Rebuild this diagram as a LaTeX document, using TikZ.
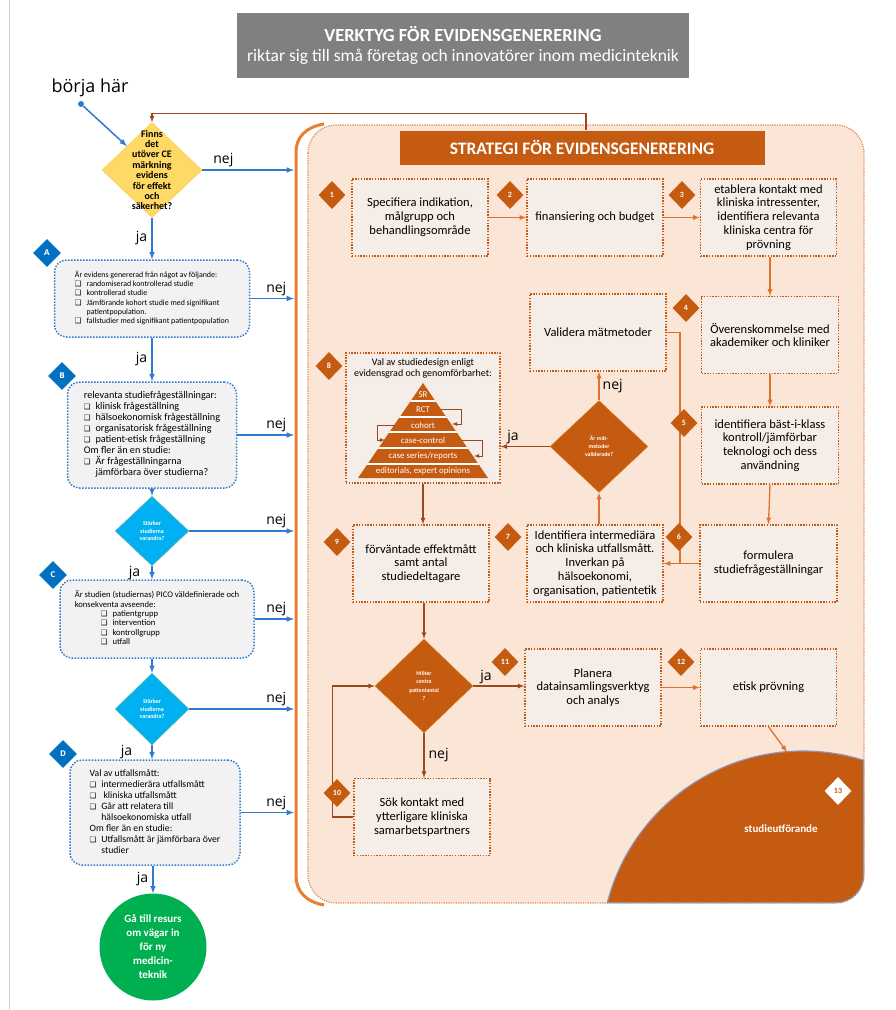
\documentclass[tikz,border=0pt]{standalone}
\usepackage{fontspec}
\setmainfont{Carlito}
\newfontfamily\segoe{Open Sans}
\newfontfamily\symfont{DejaVu Sans}
\usetikzlibrary{shapes.geometric}
\usetikzlibrary{positioning}
\usetikzlibrary{arrows}
\usetikzlibrary{calc}

\definecolor{evbrown}{HTML}{C55A11}
\definecolor{evdark}{HTML}{9A4A1C}
\definecolor{evpeach}{HTML}{FBE5D6}
\definecolor{evcream}{HTML}{F5EDE7}
\definecolor{evorange}{HTML}{ED7D31}
\definecolor{evdot}{HTML}{E38A4A}
\definecolor{evline}{HTML}{DD7330}
\definecolor{evblue}{HTML}{2E7BCF}
\definecolor{evnavy}{HTML}{0070C0}
\definecolor{evcyan}{HTML}{00B0F0}
\definecolor{evgrey}{HTML}{F2F2F2}
\definecolor{evyellow}{HTML}{FFD966}
\definecolor{evgreen}{HTML}{00B050}
\definecolor{evhead}{HTML}{808080}
\definecolor{evslate}{HTML}{8C96B4}

\newcommand{\cb}{{\symfont\fontsize{7.5}{7.5}\selectfont ❑}}
\newcommand{\fs}[2]{\fontsize{#1}{#2}\selectfont}

\begin{document}
\begin{tikzpicture}[x=1pt,y=-1pt,
    sbox/.style={draw=evbrown,fill=evcream,line width=1.4pt,dash pattern=on 1.4pt off 1.4pt,
      minimum width=136pt,minimum height=77pt,align=center,font=\fs{12.5}{13.8},inner sep=2pt},
    numd/.style={diamond,fill=evbrown,text=white,font=\bfseries\fs{8}{8},
      minimum width=27pt,minimum height=28pt,inner sep=0pt},
    lbox/.style={draw=evblue,fill=evgrey,line width=1.5pt,dash pattern=on 1.5pt off 1.5pt,
      rounded corners=12pt,inner sep=3pt},
    letd/.style={diamond,fill=evnavy,text=white,font=\segoe\bfseries\fs{8}{8},
      minimum width=28pt,minimum height=28pt,inner sep=0pt},
    wtxt/.style={text=white,font=\bfseries\fs{6}{7.5},align=center,inner sep=0pt},
    barr/.style={draw=evblue,line width=1.5pt,-latex},
    oarr/.style={draw=evline,line width=1.3pt,-latex},
    dline/.style={draw=evdark,line width=1.2pt},
    lbl/.style={font=\segoe\fs{14}{14},inner sep=1pt}]

\useasboundingbox (0,0) rectangle (896,1010);
\fill[white] (0,0) rectangle (896,1010);
\draw[gray!35,line width=0.8pt] (9.5,0) -- (9.5,1010);

% header
\node[fill=evhead,minimum width=452pt,minimum height=65pt,text=white,align=center,font=\fs{17.5}{19}] (hdr) at (463,45.5)
  {{\bfseries\fs{18.5}{19}VERKTYG FÖR EVIDENSGENERERING}\\[1pt]riktar sig till små företag och innovatörer inom medicinteknik};

% start
\node[font=\segoe\fs{18}{18}] (here) at (90,88) {börja här};
\node[circle,fill=evblue,inner sep=0pt,minimum size=6pt] (start) at (81,104) {};

% left column
\node[diamond,fill=evyellow,draw=evyellow!80!orange,minimum width=100pt,minimum height=95pt,inner sep=0pt,
  label={[font=\bfseries\fs{10}{10.4},align=center]center:{Finns\\det\\utöver CE\\märkning\\evidens\\för effekt\\och\\säkerhet?}}] (yd) at (152,170) {};

\node[lbox,minimum width=195pt,minimum height=77pt,font=\fs{7.9}{9.3}] (A) at (152,298.5) {%
  \begin{tabular}{@{}l@{\hspace{5pt}}l@{}}
  \multicolumn{2}{@{}l@{}}{Är evidens genererad från något av följande:}\\
  \cb & randomiserad kontrollerad studie\\
  \cb & kontrollerad studie\\
  \cb & Jämförande kohort studie med signifikant\\
      & patientpopulation.\\
  \cb & fallstudier med signifikant patientpopulation
  \end{tabular}};

\node[lbox,minimum width=169pt,minimum height=106pt,font=\fs{10.2}{11}] (B) at (152,435) {%
  \begin{tabular}{@{}l@{\hspace{5pt}}l@{}}
  \multicolumn{2}{@{}l@{}}{relevanta studiefrågeställningar:}\\
  \cb & klinisk frågeställning\\
  \cb & hälsoekonomisk frågeställning\\
  \cb & organisatorisk frågeställning\\
  \cb & patient-etisk frågeställning\\
  \multicolumn{2}{@{}l@{}}{Om fler än en studie:}\\
  \cb & Är frågeställningarna\\
      & jämförbara över studierna?
  \end{tabular}};

\node[diamond,fill=evcyan,draw=evyellow!60!evcyan,minimum width=74pt,minimum height=70pt,inner sep=0pt,
  label={[wtxt]center:{Stärker\\studierna\\varandra?}}] (cs1) at (152,531) {};

\node[lbox,minimum width=194pt,minimum height=78pt,font=\fs{8.6}{9.3}] (C) at (157,619) {%
  \begin{tabular}{@{}l@{\hspace{5pt}}l@{}}
  \multicolumn{2}{@{}l@{}}{Är studien (studiernas) PICO väldefinierade och}\\
  \multicolumn{2}{@{}l@{}}{konsekventa avseende:}\\
  \hspace*{26pt}\cb & patientgrupp\\
  \hspace*{26pt}\cb & intervention\\
  \hspace*{26pt}\cb & kontrollgrupp\\
  \hspace*{26pt}\cb & utfall
  \end{tabular}};

\node[diamond,fill=evcyan,draw=evyellow!60!evcyan,minimum width=74pt,minimum height=72pt,inner sep=0pt,
  label={[wtxt]center:{Stärker\\studierna\\varandra?}}] (cs2) at (152,709) {};

\node[lbox,minimum width=170pt,minimum height=105pt,font=\fs{9.7}{11}] (D) at (155,812.5) {%
  \begin{tabular}{@{}l@{\hspace{5pt}}l@{}}
  \multicolumn{2}{@{}l@{}}{Val av utfallsmått:}\\
  \cb & intermedierära utfallsmått\\
  \cb & \ kliniska utfallsmått\\
  \cb & Går att relatera till\\
      & hälsoekonomiska utfall\\
  \multicolumn{2}{@{}l@{}}{Om fler än en studie:}\\
  \cb & Utfallsmått är jämförbara över\\
      & studier
  \end{tabular}};

\node[circle,fill=evgreen,minimum size=107pt,inner sep=0pt,text=white,align=center,font=\bfseries\fs{11}{14}] (go) at (153,947)
  {Gå till resurs\\om vägar in\\för ny\\medicin-\\teknik};

\node[letd] (la) at (47,253) {A};
\node[letd] (lb) at (62,376) {B};
\node[letd] (lc) at (53,575) {C};
\node[letd] (ld) at (63,754) {D};

% strategy panel
\coordinate (brk) at (294,0);
\fill[evpeach,rounded corners=28pt] (308,125) rectangle (864,903);
\draw[evdot,line width=1.2pt,dash pattern=on 1.2pt off 1.2pt,rounded corners=28pt] (308,125) rectangle (864,903);
\begin{scope}
  \clip[rounded corners=28pt] (308,125) rectangle (864,903);
  \fill[evbrown] (803,953) circle[radius=202pt];
  \draw[evslate,line width=1.2pt] (803,953) circle[radius=202pt];
  \clip (803,953) circle[radius=202pt];
  \draw[evslate,line width=2pt,rounded corners=28pt] (308,125) rectangle (864,903);
\end{scope}
\draw[evorange,line width=3pt] (324,124) .. controls (306,127) and (296,137) .. (296,152)
  -- (296,876) .. controls (296,891) and (306,902) .. (324,905);

\node[fill=evbrown,text=white,font=\bfseries\fs{17.5}{17.5},minimum width=365pt,minimum height=34pt] (stitle) at (582,147.5)
  {STRATEGI FÖR EVIDENSGENERERING};

\node[sbox] (b1) at (420,217.5) {Specifiera indikation,\\målgrupp och\\behandlingsområde};
\node[sbox] (b2) at (595,217.5) {finansiering och budget};
\node[sbox] (b3) at (768.5,217.5) {etablera kontakt med\\kliniska intressenter,\\identifiera relevanta\\kliniska centra för\\prövning};
\node[sbox] (val) at (598,332.5) {Validera mätmetoder};
\node[sbox,minimum width=137pt] (b4) at (770,335) {Överenskommelse med\\akademiker och kliniker};
\node[sbox,minimum width=137pt] (b5) at (770,445.5) {identifiera bäst-i-klass\\kontroll/jämförbar\\teknologi och dess\\användning};
\node[sbox,minimum width=137pt] (b6) at (768.5,563.5) {formulera\\studiefrågeställningar};
\node[sbox] (b7) at (595,563.5) {Identifiera intermediära\\och kliniska utfallsmått.\\Inverkan på\\hälsoekonomi,\\organisation, patientetik};
\node[sbox] (b9) at (421,563.5) {förväntade effektmått\\samt antal\\studiedeltagare};
\node[sbox] (b11) at (593,687.5) {Planera\\datainsamlingsverktyg\\och analys};
\node[sbox] (b12) at (768.5,687.5) {etisk prövning};
\node[sbox] (b10) at (422,817) {Sök kontakt med\\ytterligare kliniska\\samarbetspartners};

% box 8 with pyramid
\node[sbox,minimum width=154pt,minimum height=130pt] (b8) at (423,418) {};
\node[font=\fs{10}{11},align=center,below=3pt of b8.north] (b8t) {Val av studiedesign enligt\\evidensgrad och genomförbarhet:};
\fill[evbrown] (423,383) -- (488,478) -- (358,478) -- cycle;
\begin{scope}
  \clip (423,383) -- (488,478) -- (358,478) -- cycle;
  \foreach \yy in {401,417,432,448,464}
    \draw[white,line width=1.6pt] (350,\yy) -- (500,\yy);
\end{scope}
\foreach \yy/\lvl/\nm in {395/SR/sr,410/RCT/rct,425/cohort/coh,440/case-control/cc,
    456/{case series/reports}/cs,471.5/{editorials, expert opinions}/eo}
  \node[text=white,font=\fs{8.9}{8.9},inner sep=0pt] (pyr-\nm) at (423,\yy) {\lvl};
\draw[dline,line width=0.8pt,-latex] (441,409) -- (461,409) -- (461,424) -- (452,424);
\draw[dline,line width=0.8pt,-latex] (395,425) -- (377,425) -- (377,440) -- (385,440);
\draw[dline,line width=0.8pt,-latex] (462,440) -- (482,440) -- (482,456) -- (474,456);

% decisions in panel
\node[diamond,fill=evbrown,draw=evyellow!40!evbrown,minimum width=98pt,minimum height=92pt,inner sep=0pt,
  label={[wtxt,font=\bfseries\fs{5.8}{8}]center:{Är mät-\\metoder\\validerade?}}] (mat) at (599,446.5) {};
\node[diamond,fill=evbrown,draw=evyellow!40!evbrown,minimum width=98pt,minimum height=94pt,inner sep=0pt,
  label={[wtxt,font=\bfseries\fs{5.8}{8.5}]center:{Möter\\centra\\patientantal\\?}}] (mot) at (424,686) {};

\coordinate (c13) at (787,752);
\coordinate (j67) at (680,563.5);
\node[text=white,font=\bfseries\fs{11}{11}] (s13) at (781,829) {studieutförande};

% connectors, left
\draw[barr] (start) -- (yd.north west);
\draw[barr] (yd.south) -- (A.north) node[lbl,midway,left=3pt] {ja};
\draw[barr] (yd.east) -- (yd.east -| brk) node[lbl,pos=0.23,above=1pt] {nej};
\draw[barr] (A.east) -- (A.east -| brk) node[lbl,pos=1,above left=1pt and 6pt] {nej};
\draw[barr] (A.south) -- (B.north) node[lbl,midway,left=3pt] {ja};
\draw[barr] (B.east) -- (B.east -| brk) node[lbl,pos=1,above left=1pt and 6pt] {nej};
\draw[barr] (B.south) -- (cs1.north);
\draw[barr] (cs1.east) -- (cs1.east -| brk) node[lbl,pos=1,above left=1pt and 6pt] {nej};
\draw[barr] (cs1.south) -- (cs1.south |- C.north) node[lbl,midway,left=10pt] {ja};
\draw[barr] (C.east) -- (C.east -| brk) node[lbl,pos=1,above left=1pt and 6pt] {nej};
\draw[barr] (cs2.north |- C.south) -- (cs2.north);
\draw[barr] (cs2.east) -- (cs2.east -| brk) node[lbl,pos=1,above left=1pt and 6pt] {nej};
\draw[barr] (cs2.south) -- (cs2.south |- D.north) node[lbl,midway,left=18pt] {ja};
\draw[barr] (D.east) -- (D.east -| brk) node[lbl,pos=1,above left=1pt and 6pt] {nej};
\draw[barr] (go.north |- D.south) -- (go.north) node[lbl,midway,left=3pt] {ja};

% connectors, panel
\draw[dline,-latex] ([xshift=4pt]stitle.north) -- ++(0,-17) -| (yd.north);
\draw[oarr] (b1.east) -- (b2.west);
\draw[oarr] (b2.east) -- (b3.west);
\draw[oarr] (b4.north |- b3.south) -- (b4.north);
\draw[oarr] (b4.south) -- (b5.north);
\draw[oarr] (b5.south) -- (b6.north);
\draw[oarr] (b6.west) -- (b7.east);
\draw[oarr,-] (val.east) -| (j67);
\draw[oarr] (mat.south |- b7.north) -- (mat.south);
\draw[oarr] (mat.north) -- (mat.north |- val.south) node[lbl,midway,right=2pt] {nej};
\draw[dline,-latex] (mat.west) -- (mat.west -| b8.east) node[lbl,pos=0.75,above=1pt] {ja};
\draw[dline,-latex] (b8.south) -- (b8.south |- b9.north);
\draw[dline,-latex] (mot.north |- b9.south) -- (mot.north);
\draw[dline,-latex] (mot.east) -- (mot.east -| b11.west) node[lbl,pos=0.25,above=1pt] {ja};
\draw[oarr] (b11.east) -- (b12.west);
\draw[oarr] (b12.south) -- (c13);
\draw[dline,-latex] (mot.south) -- (mot.south |- b10.north) node[lbl,midway,right=3pt] {nej};
\draw[dline,-latex] (b10.west) -- ++(-21,0) |- (mot.west);

% step numbers
\node[numd] (n1) at (332,195) {1};
\node[numd] (n2) at (510,195) {2};
\node[numd] (n3) at (682,195) {3};
\node[numd] (n4) at (686,308) {4};
\node[numd] (n5) at (684,423) {5};
\node[numd] (n6) at (679,537) {6};
\node[numd] (n7) at (508,537) {7};
\node[numd] (n8) at (329,366) {8};
\node[numd] (n9) at (337,542) {9};
\node[numd] (n10) at (337,793) {10};
\node[numd] (n11) at (505,662) {11};
\node[numd] (n12) at (681,662) {12};
\node[numd,fill=white,text=evbrown] (n13) at (838,791) {13};
\end{tikzpicture}
\end{document}
